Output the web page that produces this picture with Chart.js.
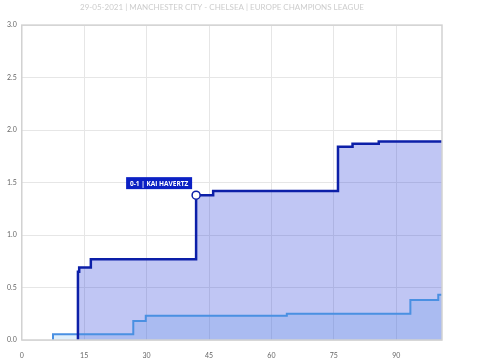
<!DOCTYPE html>
<html>
<head>
<meta charset="utf-8">
<script src="https://cdn.jsdelivr.net/npm/chart.js@4/dist/chart.umd.min.js"></script>
<style>
    body { margin: 0; background: #fff; }
    #wrap { width: 480px; height: 362px; }
</style>
</head>
<body>
<div id="wrap"><canvas id="xg-chart"></canvas></div>
<script>
const chartTitle = '29-05-2021 | MANCHESTER CITY - CHELSEA | EUROPE CHAMPIONS LEAGUE';
const xTicks = [0, 15, 30, 45, 60, 75, 90];
const yTicks = [0, 0.5, 1, 1.5, 2, 2.5, 3];
const endMinute = 101;

// cumulative xG
const cityMinutes = [7.5, 26.8, 29.8, 63.7, 93.4, 100.1];
const cityXG = [0.054, 0.18, 0.23, 0.25, 0.38, 0.43];
const chelseaMinutes = [13.5, 13.8, 16.6, 41.9, 46.0, 76.0, 79.5, 85.8];
const chelseaXG = [0.65, 0.69, 0.77, 1.38, 1.42, 1.84, 1.87, 1.89];

const goalMinutes = [41.9];
const goalXG = [1.38];
const goalLabels = ['0-1 | KAI HAVERTZ'];

function stepPoints(minutes, values) {
    const pts = [{ x: minutes[0], y: 0 }];
    minutes.forEach((m, i) => pts.push({ x: m, y: values[i] }));
    pts.push({ x: endMinute, y: values[values.length - 1] });
    return pts;
}

const frame = {
    id: 'frame',
    afterDatasetsDraw(chart) {
        const { ctx, chartArea: a } = chart;
        ctx.save();
        ctx.strokeStyle = '#d2d2d2';
        ctx.lineWidth = 1.5;
        ctx.strokeRect(a.left, a.top, a.right - a.left, a.bottom - a.top);
        ctx.restore();
    }
};

const goalTag = {
    id: 'goalTag',
    afterDraw(chart) {
        const meta = chart.getDatasetMeta(2);
        const ctx = chart.ctx;
        meta.data.forEach((pt, i) => {
            const w = 66, h = 12;
            const left = pt.x - 4 - w, top = pt.y - 18;
            ctx.save();
            ctx.fillStyle = '#0b20c4';
            ctx.fillRect(left, top, w, h);
            ctx.fillStyle = '#fff';
            ctx.font = 'bold 6.5px "Open Sans"';
            ctx.textAlign = 'center';
            ctx.textBaseline = 'middle';
            ctx.fillText(goalLabels[i], left + w / 2, top + h / 2 + 0.5);
            ctx.restore();
        });
    }
};

new Chart(document.getElementById('xg-chart'), {
    type: 'line',
    data: {
        datasets: [{
            label: 'Chelsea',
            data: stepPoints(chelseaMinutes, chelseaXG),
            stepped: true,
            borderColor: '#0c1fa8',
            borderWidth: 2.5,
            backgroundColor: 'rgba(45,65,220,0.3)',
            fill: 'origin',
            pointRadius: 0,
            order: 1
        }, {
            label: 'Manchester City',
            data: stepPoints(cityMinutes, cityXG),
            stepped: true,
            borderColor: '#4a90e2',
            borderWidth: 2,
            backgroundColor: 'rgba(100,175,235,0.2)',
            fill: 'origin',
            pointRadius: 0,
            order: 2
        }, {
            label: 'Goals',
            type: 'scatter',
            data: goalMinutes.map((m, i) => ({ x: m, y: goalXG[i] })),
            pointRadius: 4,
            pointBackgroundColor: '#fff',
            pointBorderColor: '#0c1fa8',
            pointBorderWidth: 1.5,
            order: 0
        }]
    },
    options: {
        responsive: true,
        maintainAspectRatio: false,
        animation: false,
        layout: { padding: { right: 38, left: 2, bottom: 0 } },
        plugins: {
            legend: { display: false },
            tooltip: { enabled: false },
            filler: { drawTime: 'beforeDatasetsDraw' },
            title: {
                display: true,
                text: chartTitle,
                color: '#cdcdcd',
                font: { family: 'Lato', size: 8, weight: 'normal' },
                padding: { top: 3, bottom: 12.5 }
            }
        },
        scales: {
            x: {
                type: 'linear',
                min: 0,
                max: endMinute,
                afterBuildTicks: axis => { axis.ticks = xTicks.map(v => ({ value: v })); },
                afterFit: axis => { axis.height = 22; },
                grid: { color: '#e6e6e6', drawTicks: false },
                border: { display: false },
                ticks: { color: '#666', font: { family: 'Lato', size: 7 }, padding: 12, maxRotation: 0 }
            },
            y: {
                min: 0,
                max: 3,
                afterBuildTicks: axis => { axis.ticks = yTicks.map(v => ({ value: v })); },
                grid: { color: '#e6e6e6', drawTicks: false },
                border: { display: false },
                ticks: { color: '#666', font: { family: 'Lato', size: 7 }, padding: 5, callback: v => v.toFixed(1) }
            }
        }
    },
    plugins: [frame, goalTag]
});
</script>
</body>
</html>
